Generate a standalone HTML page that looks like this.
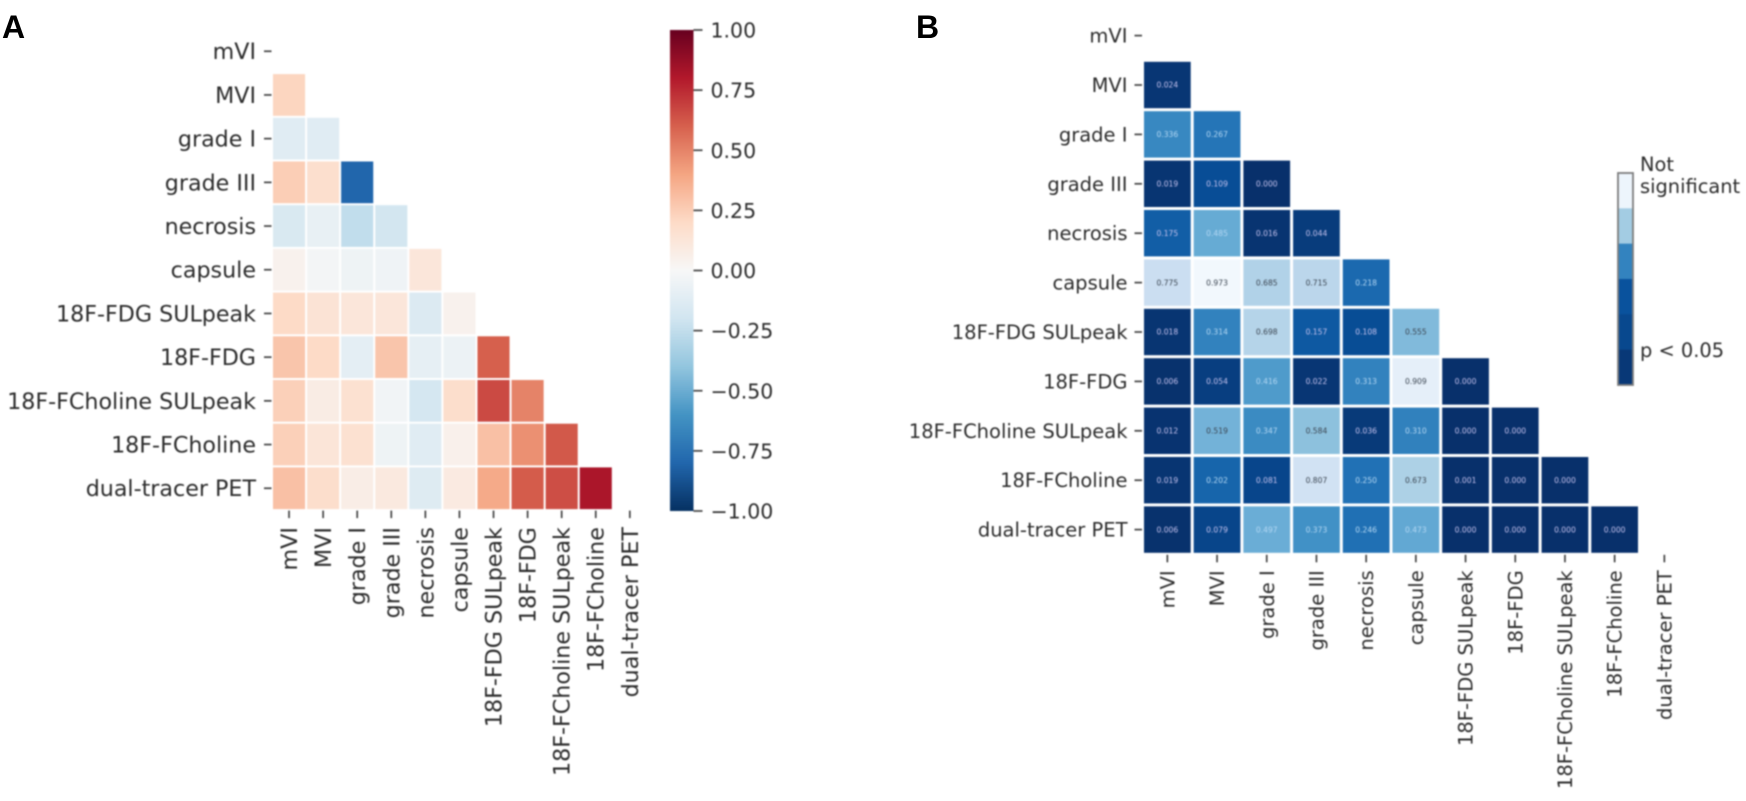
<!DOCTYPE html>
<html lang="en">
<head>
<meta charset="utf-8">
<title>Correlation and significance heatmaps</title>
<style>
html,body{margin:0;padding:0;background:#fff;width:1746px;height:801px;overflow:hidden}
svg{display:block}
#charts{filter:blur(0.75px)}
text{font-family:"DejaVu Sans","Liberation Sans",sans-serif;fill:#2c2c2c}
.panel{font-family:"Liberation Sans",sans-serif;font-weight:700;font-size:32px;fill:#000}
</style>
</head>
<body>
<svg id="figure" xmlns="http://www.w3.org/2000/svg" width="1746" height="801" viewBox="0 0 1746 801">
  <defs>
    <linearGradient id="rdbu" x1="0" y1="1" x2="0" y2="0"></linearGradient>
  </defs>
  <rect width="1746" height="801" fill="#fff"></rect>
  <text class="panel" x="2" y="38">A</text>
  <text class="panel" x="916" y="38">B</text>
  <g id="charts">
    <g id="panelA"></g>
    <g id="colorbar"></g>
    <g id="panelB"></g>
    <g id="legendB"></g>
  </g>
</svg>
<script>
const categories = ["mVI","MVI","grade I","grade III","necrosis","capsule","18F-FDG SULpeak","18F-FDG","18F-FCholine SULpeak","18F-FCholine","dual-tracer PET"];

const correlations = [
  [],
  [0.22],
  [-0.12,-0.12],
  [0.25,0.17,-0.8],
  [-0.16,-0.08,-0.25,-0.19],
  [0.04,-0.02,-0.05,-0.04,0.12],
  [0.2,0.14,0.12,0.12,-0.14,0.04],
  [0.28,0.2,-0.1,0.28,-0.09,-0.06,0.6],
  [0.24,0.08,0.16,-0.03,-0.18,0.18,0.66,0.5],
  [0.24,0.13,0.16,-0.05,-0.12,0.05,0.3,0.46,0.62],
  [0.3,0.18,0.07,0.1,-0.13,0.09,0.38,0.61,0.65,0.82]
];

const pValues = [
  [],
  [0.024],
  [0.336,0.267],
  [0.019,0.109,0.000],
  [0.175,0.485,0.016,0.044],
  [0.775,0.973,0.685,0.715,0.218],
  [0.018,0.314,0.698,0.157,0.108,0.555],
  [0.006,0.054,0.416,0.022,0.313,0.909,0.000],
  [0.012,0.519,0.347,0.584,0.036,0.310,0.000,0.000],
  [0.019,0.202,0.081,0.807,0.250,0.673,0.001,0.000,0.000],
  [0.006,0.079,0.497,0.373,0.246,0.473,0.000,0.000,0.000,0.000]
];

const colorbarTicks = [1,0.75,0.5,0.25,0,-0.25,-0.5,-0.75,-1];
const legendBandValues = [0.95,0.64,0.32,0.13,0.09,0.03];

const RDBU_R = ["#053061","#2166ac","#4393c3","#92c5de","#d1e5f0","#f7f7f7","#fddbc7","#f4a582","#d6604d","#b2182b","#67001f"];
const BLUES = ["#f7fbff","#deebf7","#c6dbef","#9ecae1","#6baed6","#4292c6","#2171b5","#08519c","#08306b"];
const NS = "http://www.w3.org/2000/svg";

function ramp(stops, t) {
  t = Math.max(0, Math.min(1, t));
  const f = t * (stops.length - 1), i = Math.min(stops.length - 2, Math.floor(f)), u = f - i;
  const a = stops[i], b = stops[i + 1], out = [];
  for (let k = 1; k < 7; k += 2) {
    const p = parseInt(a.substr(k, 2), 16), q = parseInt(b.substr(k, 2), 16);
    out.push(Math.round(p + (q - p) * u));
  }
  return "rgb(" + out.join(",") + ")";
}
function corrColor(v) { return ramp(RDBU_R, (v + 1) / 2); }
function pColor(p) { return ramp(BLUES, 1 - p); }

function el(parent, tag, attrs, txt) {
  const e = document.createElementNS(NS, tag);
  for (const k in attrs) e.setAttribute(k, attrs[k]);
  if (txt !== undefined) e.textContent = txt;
  parent.appendChild(e);
  return e;
}

function drawHeatmap(root, values, box, colorFn, printed) {
  const xPos = i => box.left + i * box.dx;
  const yPos = i => box.top + i * box.dy;

  values.forEach((row, r) => {
    row.forEach((v, c) => {
      const cell = el(root, "rect", {
        x: xPos(c) + box.gap / 2, y: yPos(r) + box.gap / 2,
        width: box.dx - box.gap, height: box.dy - box.gap, fill: colorFn(v)
      });
      
      
      if (printed) {
        const light = v < 0.5;
        const tint = v >= 0.2 ? "#b4d8f4" : "#c6c2ee";
        const label = el(root, "text", {
          x: xPos(c) + box.dx / 2, y: yPos(r) + box.dy / 2 + 2.7,
          "text-anchor": "middle", "font-size": 7.6,
          style: "fill:" + (light ? tint : "#3a4450")
        }, v.toFixed(3));
        
        
      }
    });
  });

  categories.forEach((name, i) => {
    const cy = yPos(i) + box.dy / 2;
    const cx = xPos(i) + box.dx / 2;

    const yTick = el(root, "line", {
      x1: box.left - box.tick, x2: box.left - 0.5, y1: cy, y2: cy,
      stroke: "#444", "stroke-width": 1.7
    });
    
    

    const yLabel = el(root, "text", {
      x: box.left - box.tick - box.pad, y: cy + box.font * 0.36,
      "text-anchor": "end", "font-size": box.font
    }, name);
    
    

    const bottom = box.top + box.dy * categories.length;
    const xTick = el(root, "line", {
      x1: cx, x2: cx, y1: bottom + 0.5, y2: bottom + box.tick,
      stroke: "#444", "stroke-width": 1.7
    });
    
    

    const ly = bottom + box.tick + box.pad + 1;
    const xLabel = el(root, "text", {
      x: cx + box.font * 0.36, y: ly,
      "text-anchor": "end", "font-size": box.font,
      transform: "rotate(-90 " + (cx + box.font * 0.36) + " " + ly + ")"
    }, name);
    
    
  });
}

drawHeatmap(document.getElementById("panelA"), correlations,
  { left: 272, top: 29.4, dx: 34.08, dy: 43.7, gap: 2, tick: 8, pad: 8, font: 22.2 },
  corrColor, false);

drawHeatmap(document.getElementById("panelB"), pValues,
  { left: 1142.5, top: 10.9, dx: 49.7, dy: 49.4, gap: 3, tick: 8, pad: 7, font: 19.5 },
  pColor, true);

/* Colorbar for panel A */
(function () {
  const grad = document.getElementById("rdbu");
  for (let i = 0; i <= 20; i++) {
    el(grad, "stop", { offset: i / 20, "stop-color": corrColor(-1 + i / 10) });
  }
  const root = document.getElementById("colorbar");
  const bar = { x: 670, w: 23.5, top: 30, bottom: 511 };
  const y = v => bar.bottom - (v + 1) / 2 * (bar.bottom - bar.top);
  const body = el(root, "rect", { x: bar.x, y: bar.top, width: bar.w, height: bar.bottom - bar.top, fill: "url(#rdbu)" });
  
  
  colorbarTicks.forEach(v => {
    const t = el(root, "line", { x1: bar.x + bar.w, x2: bar.x + bar.w + 9, y1: y(v), y2: y(v), stroke: "#444", "stroke-width": 1.7 });
    
    
    const s = (v < 0 ? "\u2212" : "") + Math.abs(v).toFixed(2);
    const l = el(root, "text", { x: bar.x + bar.w + 17, y: y(v) + 7.5, "font-size": 20.5 }, s);
    
    
  });
})();

/* Discrete legend for panel B */
(function () {
  const root = document.getElementById("legendB");
  const box = { x: 1618, w: 15, top: 173, bottom: 385 };
  const h = (box.bottom - box.top) / legendBandValues.length;
  legendBandValues.forEach((p, i) => {
    const b = el(root, "rect", { x: box.x, y: box.top + i * h, width: box.w, height: h + 0.4, fill: pColor(p) });
    
    
  });
  const frame = el(root, "rect", { x: box.x, y: box.top, width: box.w, height: box.bottom - box.top, fill: "none", stroke: "#7d7d7d", "stroke-width": 1.8 });
  
  
  const a = el(root, "text", { x: 1640, y: 171, "font-size": 19.4 }, "Not");
  
  
  const b2 = el(root, "text", { x: 1640, y: 193, "font-size": 19.4 }, "significant");
  
  
  const c = el(root, "text", { x: 1640, y: 357, "font-size": 19.4 }, "p < 0.05");
  
  
})();
</script>
</body>
</html>
